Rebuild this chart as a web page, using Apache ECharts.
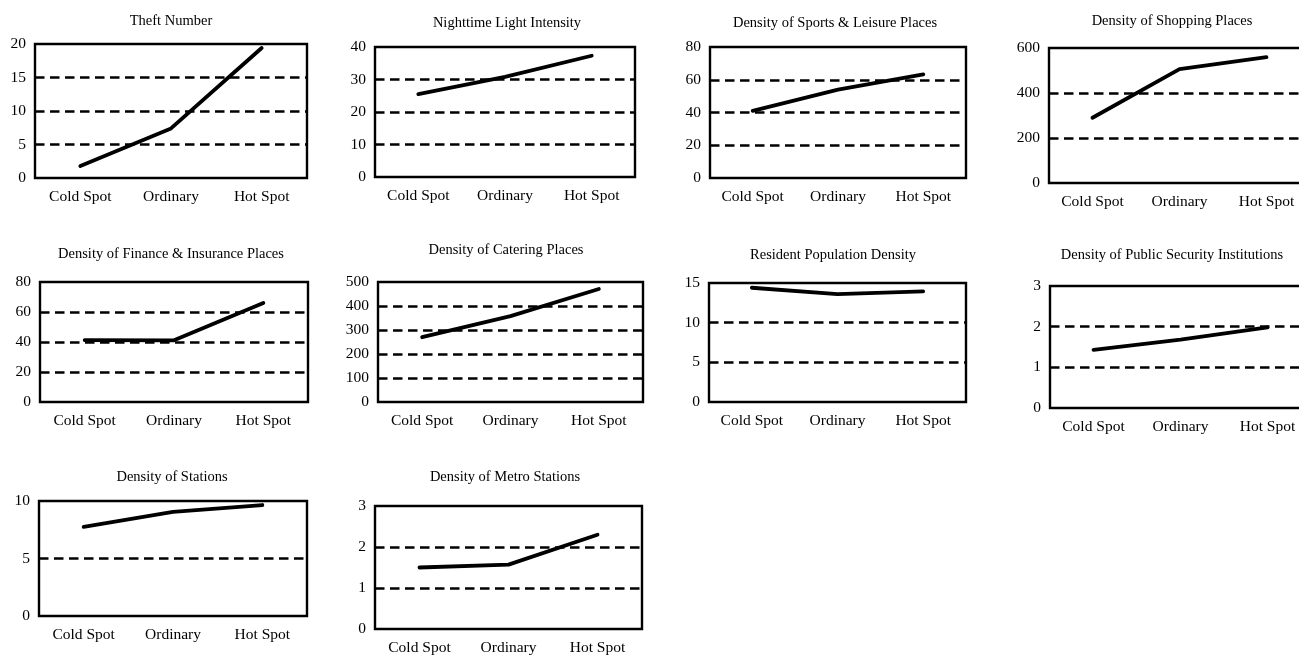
<!DOCTYPE html>
<html>
<head>
<meta charset="utf-8">
<script src="https://cdn.jsdelivr.net/npm/echarts@6/dist/echarts.min.js"></script>
<style>html,body{margin:0;padding:0;background:#fff;}#c{width:1299px;height:656px;}</style>
</head>
<body>
<div id="c"></div>
<script>
// ---- data ----
const categories = ['Cold Spot', 'Ordinary', 'Hot Spot'];
const titles = [
  'Theft Number', 'Nighttime Light Intensity', 'Density of Sports & Leisure Places', 'Density of Shopping Places',
  'Density of Finance & Insurance Places', 'Density of Catering Places', 'Resident Population Density', 'Density of Public Security Institutions',
  'Density of Stations', 'Density of Metro Stations'
];
const theft = [1.8, 7.4, 19.4];
const nightLight = [25.5, 30.8, 37.3];
const sportsLeisure = [41, 54, 63.3];
const shopping = [290, 506, 559];
const financeInsurance = [41.3, 41.1, 66];
const catering = [270, 358, 471];
const residentPopulation = [14.4, 13.6, 13.95];
const publicSecurity = [1.43, 1.68, 1.98];
const stations = [7.75, 9.05, 9.65];
const metroStations = [1.5, 1.57, 2.3];
const seriesValues = [theft, nightLight, sportsLeisure, shopping, financeInsurance, catering, residentPopulation, publicSecurity, stations, metroStations];
const yMax = [20, 40, 80, 600, 80, 500, 15, 3, 10, 3];
const yStep = [5, 10, 20, 200, 20, 100, 5, 1, 5, 1];

// ---- layout (positions in px) ----
const layout = [
  {l: 35, t: 44, w: 272, h: 134, tx: 166, ty: 18},
  {l: 375, t: 47, w: 260, h: 130, tx: 502, ty: 20},
  {l: 710, t: 47, w: 256, h: 131, tx: 830, ty: 20},
  {l: 1049, t: 48, w: 261, h: 135, tx: 1167, ty: 18},
  {l: 40, t: 282, w: 268, h: 120, tx: 166, ty: 251},
  {l: 378, t: 282, w: 265, h: 120, tx: 501, ty: 247},
  {l: 709, t: 283, w: 257, h: 119, tx: 828, ty: 252},
  {l: 1050, t: 286, w: 261, h: 122, tx: 1167, ty: 252},
  {l: 39, t: 501, w: 268, h: 115, tx: 167, ty: 474},
  {l: 375, t: 506, w: 267, h: 123, tx: 500, ty: 474}
];

const font = 'Liberation Serif, Times New Roman, serif';
const grid = [], xAxis = [], yAxis = [], series = [], title = [];
layout.forEach((p, i) => {
  grid.push({left: p.l, top: p.t, width: p.w, height: p.h, show: true, borderColor: '#000', borderWidth: 2.4,
    backgroundColor: 'transparent', containLabel: false, outerBoundsMode: 'none'});
  title.push({text: titles[i], left: p.tx, top: p.ty - 9, textAlign: 'center',
    textStyle: {fontFamily: font, fontSize: 14.5, fontWeight: 'normal', color: '#000'}});
  xAxis.push({type: 'category', gridIndex: i, data: categories, boundaryGap: true,
    axisLine: {show: false}, axisTick: {show: false},
    axisLabel: {color: '#000', fontFamily: font, fontSize: 15.5, margin: 11}});
  yAxis.push({type: 'value', gridIndex: i, min: 0, max: yMax[i], interval: yStep[i],
    axisLine: {show: false}, axisTick: {show: false},
    axisLabel: {color: '#000', fontFamily: font, fontSize: 15.5, margin: 9},
    splitLine: {show: true, showMinLine: false, showMaxLine: false,
      lineStyle: {color: '#000', width: 2.5, type: [9.5, 5.5]}}});
  series.push({type: 'line', xAxisIndex: i, yAxisIndex: i, data: seriesValues[i], symbol: 'none',
    lineStyle: {color: '#000', width: 3.8, cap: 'round', join: 'round'}, z: 5, animation: false});
});

const chart = echarts.init(document.getElementById('c'), null, {renderer: 'canvas'});
chart.setOption({backgroundColor: '#fff', animation: false, title, grid, xAxis, yAxis, series});
</script>
</body>
</html>
